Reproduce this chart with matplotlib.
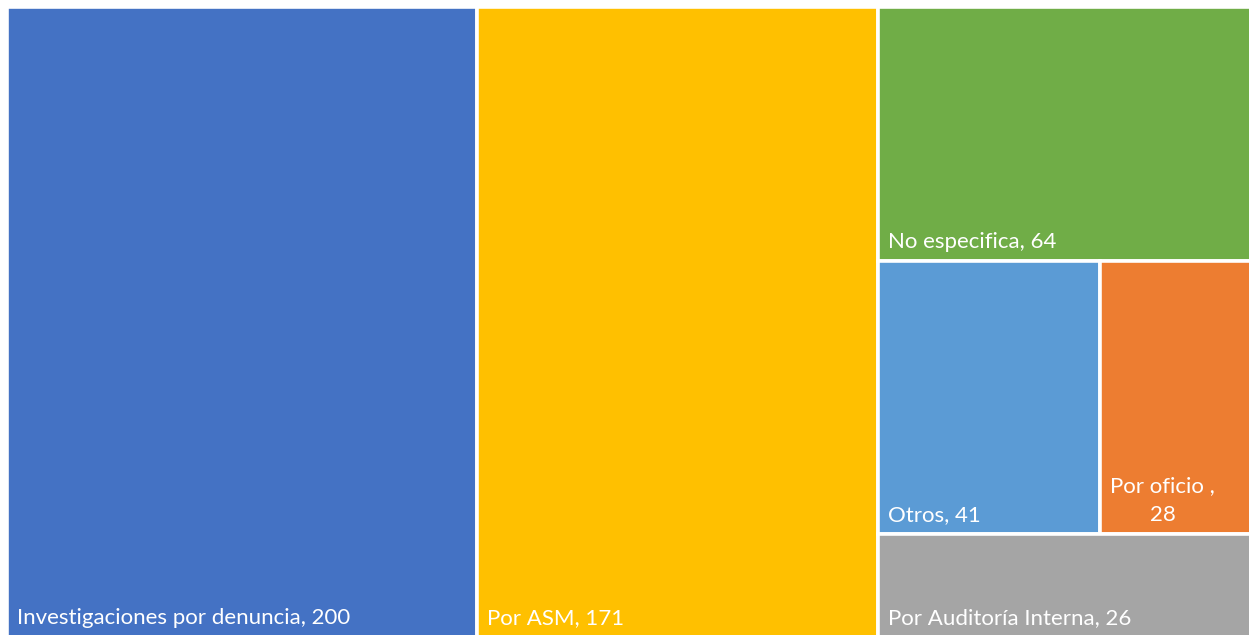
import matplotlib.pyplot as plt
from matplotlib.patches import Rectangle

# datos
categorias = ['Investigaciones por denuncia', 'Por ASM', 'No especifica',
              'Otros', 'Por oficio ,', 'Por Auditoría Interna']
valores = [200, 171, 64, 41, 28, 26]
colores = ['#4472C4', '#FFC000', '#70AD47', '#5B9BD5', '#ED7D31', '#A5A5A5']

plt.rcParams['font.family'] = ['Lato', 'DejaVu Sans']

W, H = 1249, 635
fig = plt.figure(figsize=(W / 100, H / 100), dpi=100)
ax = fig.add_axes([0, 0, 1, 1])
ax.set_xlim(0, W)
ax.set_ylim(H, 0)
ax.axis('off')


def peor(fila, lado):
    s = sum(fila)
    return max(max(lado * lado * v / (s * s), s * s / (lado * lado * v)) for v in fila)


def squarify(vals, x, y, w, h):
    # algoritmo squarified clasico
    rects = []
    total = sum(vals)
    escala = w * h / total
    areas = [v * escala for v in vals]
    while areas:
        lado = min(w, h)
        fila = [areas[0]]
        i = 1
        while i < len(areas) and peor(fila + [areas[i]], lado) <= peor(fila, lado):
            fila.append(areas[i])
            i += 1
        s = sum(fila)
        if w >= h:
            ancho = s / h
            yy = y
            for a in fila:
                rects.append((x, yy, ancho, a / ancho))
                yy += a / ancho
            x += ancho
            w -= ancho
        else:
            alto = s / w
            xx = x
            for a in fila:
                rects.append((xx, y, a / alto, alto))
                xx += a / alto
            y += alto
            h -= alto
        areas = areas[i:]
    return rects


rects = squarify(valores, 7, 7, 1245, 630)

for (x, y, w, h), cat, val, col in zip(rects, categorias, valores, colores):
    ax.add_patch(Rectangle((x, y), w, h, facecolor=col, edgecolor='white', linewidth=2.6))
    texto = f'{cat}, {val}'
    if cat.endswith(','):
        texto = f'{cat}\n{val}'
    ax.text(x + 10, y + h - 9, texto, color='white', fontsize=16, ha='left', va='bottom',
            multialignment='center', linespacing=1.55)

fig.savefig('out.png', dpi=100)
